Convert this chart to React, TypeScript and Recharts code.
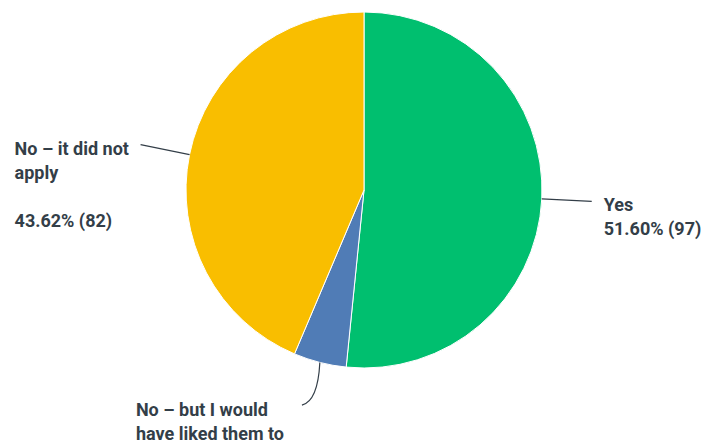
import React from 'react';
import { PieChart, Pie, Cell } from 'recharts';

// Survey answers, clockwise from 12 o'clock
const categories = ['Yes', 'No – but I would have liked them to', 'No – it did not apply'];
const counts = [97, 9, 82];
const percents = ['51.60%', '4.79%', '43.62%'];
// wrapped label text as shown in the chart
const labelRows = [['Yes'], ['No – but I would', 'have liked them to'], ['No – it did not', 'apply', '']];
const colors = ['#00bf6f', '#507cb6', '#f9be00'];

const data = categories.map((name, i) => ({ name, value: counts[i], pct: percents[i] }));

const RAD = Math.PI / 180;
const textColor = '#333e48';

const polar = (cx: number, cy: number, r: number, angle: number) => ({
  x: cx + r * Math.cos(-angle * RAD),
  y: cy + r * Math.sin(-angle * RAD),
});

const renderLabel = (props: any) => {
  const { cx, cy, midAngle, outerRadius, index } = props;
  const ext = index === 1 ? 44 : 50;
  const p1 = polar(cx, cy, outerRadius, midAngle);
  const p2 = polar(cx, cy, outerRadius + ext, midAngle);
  const rows = [...labelRows[index]];
  // blue slice: percent line falls below the frame, skip it
  if (index !== 1) rows.push(`${percents[index]} (${counts[index]})`);

  let tx = p2.x + 12;
  let ty = p2.y + 10;
  if (index === 1) {
    tx = p2.x - 173;
    ty = p2.y + 11;
  }
  if (index === 2) tx = p2.x - 126;

  const path =
    index === 1
      ? `M${p1.x},${p1.y} Q${p1.x - 2},${p2.y - 4} ${p2.x - 7},${p2.y}`
      : `M${p1.x},${p1.y} L${p2.x},${p2.y}`;

  return (
    <g key={`lbl-${index}`}>
      <path d={path} stroke="#333e48" strokeWidth={1.2} fill="none" />
      <text x={tx} y={ty} fill={textColor} fontSize={18} fontWeight={700} fontFamily="Roboto, sans-serif">
        {rows.map((r, i) => (
          <tspan key={i} x={tx} y={ty + i * 24}>
            {r}
          </tspan>
        ))}
      </text>
    </g>
  );
};

export default function App() {
  return (
    <div style={{ position: 'absolute', left: 0, top: 0, width: 705, height: 442, background: '#fff' }}>
      <PieChart width={705} height={442} margin={{ top: 0, right: 0, bottom: 0, left: 0 }}>
        <Pie
          data={data}
          dataKey="value"
          nameKey="name"
          cx={364}
          cy={190}
          outerRadius={178}
          startAngle={90}
          endAngle={-270}
          stroke="#ffffff"
          strokeWidth={1}
          label={renderLabel}
          labelLine={false}
          isAnimationActive={false}
        >
          {data.map((d, i) => (
            <Cell key={d.name} fill={colors[i]} />
          ))}
        </Pie>
      </PieChart>
    </div>
  );
}
